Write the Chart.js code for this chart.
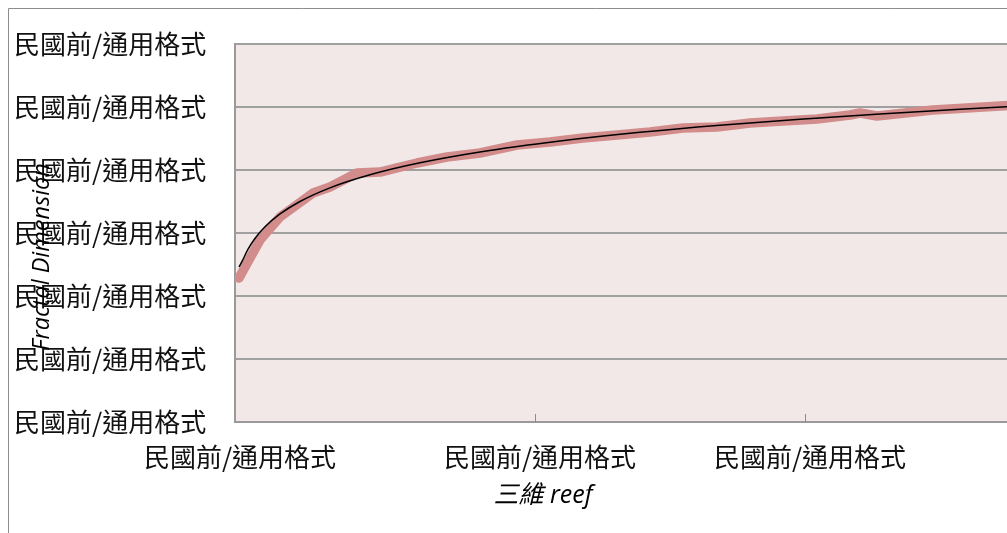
<!DOCTYPE html>
<html>
<head>
<meta charset="utf-8">
<script src="https://cdn.jsdelivr.net/npm/chart.js@4.4.1/dist/chart.umd.min.js"></script>
<style>
  html, body { margin: 0; padding: 0; overflow: hidden; background: #ffffff; width: 1007px; height: 533px; }
  #wrap { position: absolute; left: 0; top: 0; width: 1185px; height: 533px; }
</style>
</head>
<body>
<div id="wrap"><canvas id="c"></canvas></div>
<script>
// Measured fractal dimension along the 3D reef transect
const reefX = [0.27, 0.67, 1.67, 3.0, 5.2, 6.33, 8.13, 9.67, 10.8, 12.13, 14.13, 16.33, 18.8, 21.0,
               23.2, 25.47, 27.67, 29.87, 32.13, 34.33, 36.53, 38.8, 41.0, 41.67, 42.8, 46.53,
               48.8, 51.0, 53.33, 55.67];
const fractalDim = [2.2286, 2.2460, 2.2889, 2.3254, 2.3635, 2.3730, 2.3952, 2.3968, 2.4032, 2.4111,
                    2.4206, 2.4270, 2.4397, 2.4444, 2.4508, 2.4556, 2.4603, 2.4667, 2.4683, 2.4746,
                    2.4778, 2.4810, 2.4873, 2.4905, 2.4857, 2.4952, 2.4984, 2.5016, 2.5048, 2.5079];

// Logarithmic trend line
const trendX = [0.27, 0.47, 0.87, 1.33, 2.0, 3.0, 4.33, 6.33, 9.0, 12.33, 16.33, 21.67, 27.0,
                32.33, 37.67, 43.0, 48.33, 53.67, 55.67];
const trendY = [2.2460, 2.2549, 2.2743, 2.2913, 2.3098, 2.3302, 2.3500, 2.3717, 2.3924, 2.4114,
                2.4286, 2.4460, 2.4598, 2.4711, 2.4806, 2.4890, 2.4965, 2.5030, 2.5054];

// Axes
const xTickValues = [0, 20, 38];
const xMin = 0, xMax = 63;
const yMin = 2.0, yMax = 2.6, yStep = 0.1;
const tickLabel = '民國前/通用格式';
const yAxisTitle = 'Fractal Dimension';
const xAxisTitle = '三維 reef';

const labelFont = { family: '"Noto Sans CJK TC", "Noto Sans CJK SC", sans-serif', size: 26 };

const decor = {
  id: 'decor',
  beforeDraw(chart) {
    const { ctx, chartArea: a } = chart;
    ctx.save();
    ctx.fillStyle = '#f2e8e8';
    ctx.fillRect(a.left, a.top, a.right - a.left, a.bottom - a.top);
    // outer frame of the chart object
    ctx.strokeStyle = '#8c8c8c';
    ctx.lineWidth = 1;
    ctx.beginPath();
    ctx.moveTo(8.5, chart.height);
    ctx.lineTo(8.5, 8.5);
    ctx.lineTo(chart.width, 8.5);
    ctx.stroke();
    ctx.restore();
  },
  afterDraw(chart) {
    const { ctx, chartArea: a, scales: { x } } = chart;
    ctx.save();
    // inward major tick marks on the horizontal axis
    ctx.strokeStyle = '#8c8c8c';
    ctx.lineWidth = 1;
    xTickValues.slice(1).forEach(v => {
      const px = Math.round(x.getPixelForValue(v)) + 0.5;
      ctx.beginPath();
      ctx.moveTo(px, a.bottom);
      ctx.lineTo(px, a.bottom - 8);
      ctx.stroke();
    });
    // axis titles
    ctx.fillStyle = '#000000';
    ctx.textAlign = 'center';
    ctx.textBaseline = 'middle';
    ctx.font = 'italic 23.5px "Open Sans", sans-serif';
    ctx.translate(42, 257);
    ctx.rotate(-Math.PI / 2);
    ctx.fillText(yAxisTitle, 0, 0);
    ctx.restore();

    ctx.save();
    ctx.fillStyle = '#000000';
    ctx.textAlign = 'center';
    ctx.textBaseline = 'middle';
    ctx.font = 'italic 25px "Open Sans", "Noto Sans CJK TC", sans-serif';
    ctx.fillText(xAxisTitle, 543, 496);
    ctx.restore();
  }
};

new Chart(document.getElementById('c'), {
  type: 'line',
  data: {
    datasets: [
      {
        label: 'trend',
        data: trendX.map((x, i) => ({ x, y: trendY[i] })),
        borderColor: '#000000',
        borderWidth: 1.5,
        pointRadius: 0,
        cubicInterpolationMode: 'monotone',
        order: 0
      },
      {
        label: 'reef',
        data: reefX.map((x, i) => ({ x, y: fractalDim[i] })),
        borderColor: '#d28c8c',
        borderWidth: 9.5,
        pointRadius: 0,
        tension: 0,
        borderCapStyle: 'round',
        borderJoinStyle: 'round',
        order: 1
      }
    ]
  },
  options: {
    responsive: true,
    maintainAspectRatio: false,
    animation: false,
    devicePixelRatio: 1,
    layout: { padding: { left: 14, top: 44, right: 5, bottom: 0 } },
    plugins: { legend: { display: false }, tooltip: { enabled: false } },
    scales: {
      x: {
        type: 'linear',
        min: xMin,
        max: xMax,
        afterBuildTicks: s => { s.ticks = xTickValues.map(v => ({ value: v })); },
        afterFit: s => { s.height = 111; },
        grid: { display: false, drawTicks: false },
        border: { display: true, color: '#9a9a9a', width: 2 },
        ticks: {
          callback: () => tickLabel,
          autoSkip: false,
          maxRotation: 0,
          labelOffset: 5,
          padding: 20,
          font: labelFont,
          color: '#111111'
        }
      },
      y: {
        type: 'linear',
        min: yMin,
        max: yMax,
        afterFit: s => { s.width = 221; },
        grid: { color: '#a0a0a0', lineWidth: 2, drawTicks: false },
        border: { display: true, color: '#9a9a9a', width: 2 },
        ticks: {
          stepSize: yStep,
          callback: () => tickLabel,
          crossAlign: 'far',
          font: labelFont,
          color: '#111111'
        }
      }
    }
  },
  plugins: [decor]
});
</script>
</body>
</html>
